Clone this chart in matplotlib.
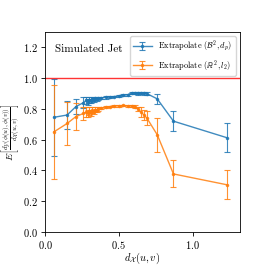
import matplotlib
matplotlib.use("Agg")
import matplotlib.pyplot as plt

plt.rcParams['font.family'] = 'serif'
plt.rcParams['font.serif'] = ['cmr10', 'DejaVu Serif']
plt.rcParams['mathtext.fontset'] = 'cm'
plt.rcParams['axes.formatter.use_mathtext'] = True

x = [0.06, 0.15, 0.21, 0.26, 0.28, 0.30, 0.29, 0.32, 0.31, 0.34, 0.33, 0.36, 0.35,
     0.38, 0.41, 0.44, 0.47, 0.50, 0.53, 0.56, 0.59, 0.61, 0.63, 0.65, 0.67, 0.69,
     0.76, 0.87, 1.23]
blue_y = [0.745, 0.76, 0.815, 0.84, 0.855, 0.86, 0.845, 0.865, 0.85, 0.868, 0.858, 0.87, 0.862,
          0.872, 0.874, 0.877, 0.880, 0.884, 0.888, 0.892, 0.905, 0.902, 0.900, 0.903, 0.901, 0.899,
          0.865, 0.72, 0.613]
blue_err = [0.25, 0.09, 0.05, 0.035, 0.025, 0.02, 0.02, 0.015, 0.015, 0.012, 0.012, 0.01, 0.01,
            0.008, 0.007, 0.006, 0.006, 0.006, 0.006, 0.006, 0.006, 0.006, 0.007, 0.008, 0.01, 0.012,
            0.033, 0.067, 0.094]
orange_y = [0.65, 0.705, 0.75, 0.77, 0.78, 0.785, 0.77, 0.79, 0.775, 0.795, 0.78, 0.80, 0.79,
            0.805, 0.81, 0.815, 0.818, 0.82, 0.822, 0.82, 0.818, 0.815, 0.80, 0.78, 0.76, 0.74,
            0.632, 0.377, 0.307]
orange_err = [0.305, 0.14, 0.085, 0.045, 0.03, 0.025, 0.025, 0.02, 0.02, 0.015, 0.015, 0.012, 0.012,
              0.008, 0.007, 0.006, 0.006, 0.006, 0.006, 0.006, 0.008, 0.01, 0.015, 0.03, 0.035, 0.045,
              0.11, 0.088, 0.095]

fig = plt.figure(figsize=(2.66, 2.66), dpi=100)
ax = fig.add_axes([0.169, 0.128, 0.733, 0.752])

ax.errorbar(x, blue_y, yerr=blue_err, color='#1f77b4', marker='.', markersize=3,
            lw=1, capsize=2, elinewidth=0.8, capthick=0.8, alpha=0.85,
            label=r'Extrapolate $(\mathcal{B}^2, d_p)$')
ax.errorbar(x, orange_y, yerr=orange_err, color='#ff7f0e', marker='.', markersize=3,
            lw=1, capsize=2, elinewidth=0.8, capthick=0.8, alpha=0.85,
            label=r'Extrapolate $(\mathbb{R}^2, l_2)$')
ax.axhline(1.0, color='red', lw=1, alpha=0.8)

ax.set_xlim(0, 1.32)
ax.set_ylim(0, 1.3)
ax.set_xticks([0.0, 0.5, 1.0])
ax.set_yticks([0.0, 0.2, 0.4, 0.6, 0.8, 1.0, 1.2])
ax.tick_params(labelsize=7.5, length=3, width=0.6, pad=2)
for s in ax.spines.values():
    s.set_linewidth(0.6)

ax.set_xlabel(r'$d_\mathcal{X}(u,v)$', fontsize=7.5)
ax.xaxis.set_label_coords(0.5, -0.095)
ax.set_ylabel(r'$E\left[\frac{d_\mathcal{Y}(\phi(u),\phi(v))}{d_\mathcal{X}(u,v)}\right]$',
              fontsize=7)
ax.yaxis.set_label_coords(-0.115, 0.5)
ax.text(0.05, 0.9, 'Simulated Jet', transform=ax.transAxes, fontsize=8)
ax.legend(loc='upper right', fontsize=6, handlelength=2.2, borderpad=0.4,
          labelspacing=0.4, framealpha=0.8)

fig.savefig('out.png', dpi=100)
